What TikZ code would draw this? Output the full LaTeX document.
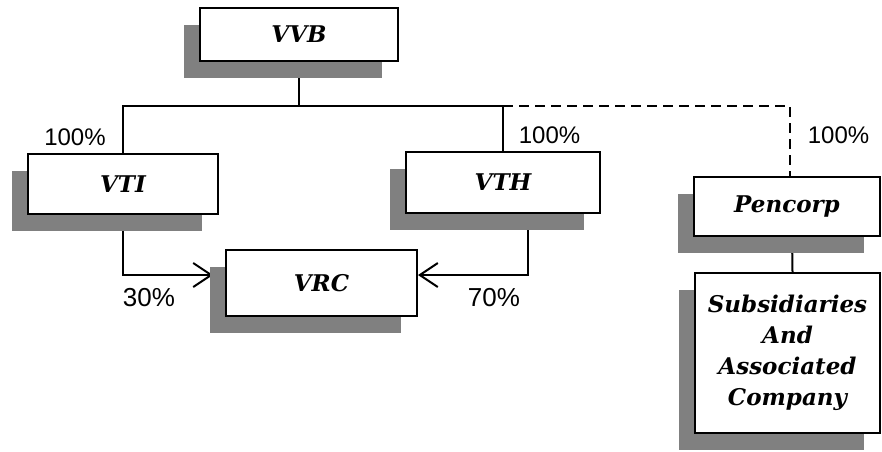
\documentclass[tikz,border=0pt]{standalone}
\usepackage{fontspec}
\newfontfamily\pctfont{Liberation Sans}
\newfontfamily\firmfont{DejaVu Serif}
\usetikzlibrary{arrows.meta,shadows,backgrounds}

\begin{document}
\begin{tikzpicture}[x=1pt,y=-1pt,line width=2pt,
  >={Straight Barb[length=18pt,width=24pt,line width=2pt]},
  every on background layer/.style={line width=2pt},
  firm/.style={draw,fill=white,inner sep=0pt,align=center,
    font=\fontsize{23}{31}\selectfont\firmfont\bfseries\itshape,
    drop shadow={shadow xshift=-16pt,shadow yshift=-17pt,fill=black!50,opacity=1}},
  share/.style={font=\fontsize{24}{26}\selectfont\pctfont,inner sep=0pt}]
  \useasboundingbox (0,0) rectangle (882,451);

  \node[firm,minimum width=198pt,minimum height=53pt] (VVB) at (299,34.5) {VVB};
  \node[firm,minimum width=190pt,minimum height=60pt] (VTI) at (123,184) {VTI};
  \node[firm,minimum width=194pt,minimum height=61pt] (VTH) at (503,182.5) {VTH};
  \node[firm,minimum width=191pt,minimum height=66pt] (VRC) at (321.5,283) {VRC};
  \node[firm,minimum width=186pt,minimum height=59pt] (pen) at (787,206.5) {Pencorp};
  \node[firm,minimum width=185pt,minimum height=160pt] (subs) at (787.5,353)
    {Subsidiaries\\And\\Associated\\Company};

  % shareholdings
  \node[share] (pVTI) at (75,137.5) {100\%};
  \node[share] (pVTH) at (549.5,135) {100\%};
  \node[share] (ppen) at (838.5,135) {100\%};
  \node[share,font=\fontsize{26}{30}\selectfont\pctfont] (p30) at (149,298) {30\%};
  \node[share,font=\fontsize{26}{30}\selectfont\pctfont] (p70) at (494,298) {70\%};

  \begin{scope}[on background layer]
    \coordinate (bar) at (0,106);
    \draw (VVB.south) -- (VVB.south |- bar);
    \draw (VTI.north) -- (VTI.north |- bar) -- (VTH.north |- bar) -- (VTH.north);
    \draw[dash pattern=on 10pt off 6pt] (VTH.north |- bar) -| ([xshift=3pt]pen.north);
    \draw ([xshift=5pt]pen.south) -- ([xshift=5pt]subs.north);
    \draw[->] (VTI.south) |- ([xshift=-12pt,yshift=8pt]VRC.west);
    \draw[->] ([xshift=25pt]VTH.south) |- ([yshift=8pt]VRC.east);
  \end{scope}
\end{tikzpicture}
\end{document}
